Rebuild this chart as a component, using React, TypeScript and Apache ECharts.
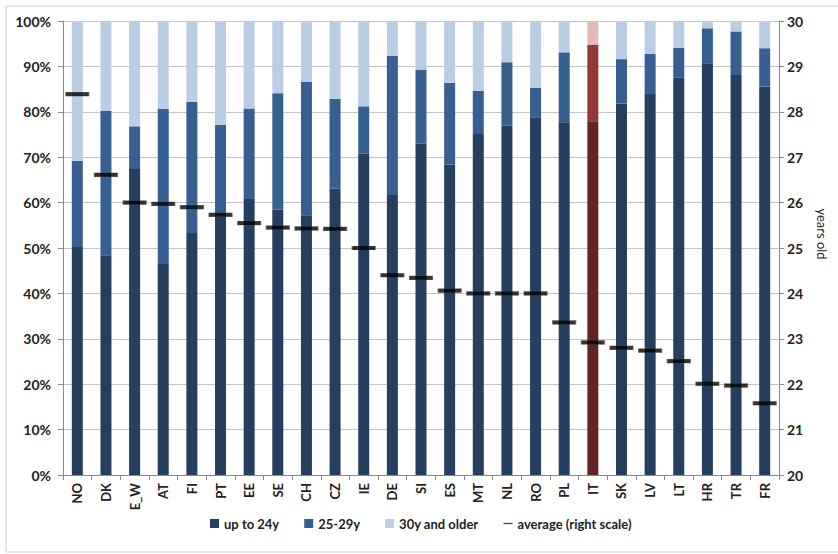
import React, { useEffect, useRef } from "react";
import * as echarts from "echarts";

const countries = ["NO","DK","E_W","AT","FI","PT","EE","SE","CH","CZ","IE","DE","SI","ES","MT","NL","RO","PL","IT","SK","LV","LT","HR","TR","FR"];
const upTo24 = [50.2,48.4,67.4,46.5,53.3,57.0,60.8,58.5,57.2,63.1,70.8,61.7,73.0,68.4,75.1,76.9,78.8,77.7,77.9,81.8,83.9,87.5,90.7,88.1,85.6];
const age25to29 = [19.0,31.8,9.4,34.1,28.9,20.1,19.9,25.6,29.4,19.8,10.4,30.6,16.3,18.0,9.5,14.0,6.5,15.4,16.9,9.8,8.9,6.6,7.7,9.6,8.4];
const age30plus = [30.8,19.8,23.2,19.4,17.8,22.9,19.3,15.9,13.4,17.1,18.8,7.7,10.7,13.6,15.4,9.1,14.7,6.9,5.2,8.4,7.2,5.9,1.6,2.3,6.0];
const averageAge = [28.39,26.61,26.0,25.97,25.9,25.73,25.55,25.45,25.43,25.42,25.0,24.4,24.34,24.06,24.0,24.0,24.0,23.36,22.92,22.8,22.74,22.51,22.01,21.97,21.58];
const leftTicks = [0,10,20,30,40,50,60,70,80,90,100];
const rightTicks = [20,21,22,23,24,25,26,27,28,29,30];

const highlight = "IT";
const blue = ["#243F60", "#376092", "#B9CDE5"];
const red = ["#632523", "#953735", "#E6B9B8"];

export default function App() {
  const ref = useRef<HTMLDivElement>(null);
  useEffect(() => {
    if (!ref.current) return;
    const chart = echarts.init(ref.current, undefined, { renderer: "svg" });
    const font = "Lato, 'Open Sans', sans-serif";
    const mk = (vals: number[], idx: number) =>
      vals.map((v, i) =>
        countries[i] === highlight ? { value: v, itemStyle: { color: red[idx] } } : v
      );
    const names = ["up to 24y", "25-29y", "30y and older"];
    const groups = [upTo24, age25to29, age30plus];
    chart.setOption({
      animation: false,
      textStyle: { fontFamily: font },
      graphic: [
        {
          type: "rect",
          shape: { x: 6, y: 6, width: 840, height: 546 },
          style: { fill: "none", stroke: "#d0d0d0", lineWidth: 1 },
          silent: true,
        },
        {
          type: "text",
          x: 822,
          y: 234,
          rotation: -Math.PI / 2,
          style: {
            text: "years old",
            fontFamily: font,
            fontSize: 13,
            fill: "#222",
            textAlign: "center",
            textVerticalAlign: "middle",
          },
          silent: true,
        },
      ],
      grid: { left: 63, right: 59, top: 21, bottom: 79, containLabel: false },
      legend: {
        left: 205,
        top: 512,
        itemWidth: 9,
        itemHeight: 9,
        itemGap: 25,
        textStyle: { fontFamily: font, fontSize: 13, fontWeight: "bold", color: "#222" },
        data: [
          { name: names[0], icon: "rect", itemStyle: { color: blue[0] } },
          { name: names[1], icon: "rect", itemStyle: { color: blue[1] } },
          { name: names[2], icon: "rect", itemStyle: { color: blue[2] } },
          { name: "average (right scale)", icon: "path://M0,0h10v1.4h-10z", itemStyle: { color: "#111", borderWidth: 0 } },
        ],
      },
      xAxis: {
        type: "category",
        data: countries,
        axisLine: { lineStyle: { color: "#8a8a8a" } },
        axisTick: { show: true, length: 5, lineStyle: { color: "#8a8a8a" } },
        axisLabel: {
          rotate: 90,
          margin: 8,
          interval: 0,
          fontFamily: font,
          fontSize: 13,
          fontWeight: "bold",
          color: "#222",
        },
      },
      yAxis: [
        {
          type: "value",
          min: leftTicks[0],
          max: leftTicks[leftTicks.length - 1],
          interval: 10,
          axisLine: { show: true, lineStyle: { color: "#8a8a8a" } },
          axisTick: { show: true, length: 5, lineStyle: { color: "#8a8a8a" } },
          splitLine: { lineStyle: { color: "#c4c4c4" } },
          axisLabel: {
            formatter: "{value}%",
            margin: 12,
            fontFamily: font,
            fontSize: 14,
            fontWeight: "bold",
            color: "#222",
          },
        },
        {
          type: "value",
          min: rightTicks[0],
          max: rightTicks[rightTicks.length - 1],
          interval: 1,
          position: "right",
          axisLine: { show: true, lineStyle: { color: "#8a8a8a" } },
          axisTick: { show: true, length: 5, lineStyle: { color: "#8a8a8a" } },
          splitLine: { show: false },
          axisLabel: {
            margin: 8,
            fontFamily: font,
            fontSize: 14,
            fontWeight: "bold",
            color: "#222",
          },
        },
      ],
      series: [
        ...groups.map((g, idx) => ({
          name: names[idx],
          type: "bar",
          stack: "share",
          barWidth: 11,
          itemStyle: { color: blue[idx] },
          data: mk(g, idx),
        })),
        {
          name: "average (right scale)",
          type: "scatter",
          yAxisIndex: 1,
          symbol: "rect",
          symbolSize: [23, 4],
          itemStyle: { color: "#000", borderColor: "#555", borderWidth: 0.5 },
          z: 5,
          data: averageAge,
        },
      ],
    });
    return () => chart.dispose();
  }, []);
  return (
    <div
      ref={ref}
      style={{ position: "fixed", left: 0, top: 0, width: 838, height: 554, background: "#fff" }}
    />
  );
}
